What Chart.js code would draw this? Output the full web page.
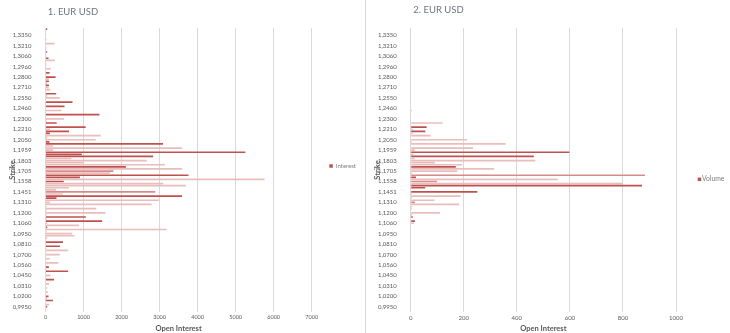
<!DOCTYPE html>
<html><head><meta charset="utf-8">
<script src="https://cdn.jsdelivr.net/npm/chart.js@4.4.0/dist/chart.umd.min.js"></script>
<style>
html,body{margin:0;padding:0;background:#fff;}
#wrap{position:relative;width:730px;height:333px;overflow:hidden;background:#fff;}
#c1{position:absolute;left:0;top:0;width:365px;height:333px;}
#c2{position:absolute;left:366px;top:0;width:364px;height:333px;}
#sep{position:absolute;left:365px;top:0;width:1px;height:333px;background:#d9d9d9;}
</style></head><body>
<div id="wrap"><canvas id="c1" width="365" height="333"></canvas><div id="sep"></div><canvas id="c2" width="364" height="333"></canvas></div>
<script>
// Strike tick labels, top to bottom (shown every 5th category)
const strikeLabels = ['1,3350','1,3210','1,3060','1,2960','1,2800','1,2710','1,2550','1,2460','1,2300','1,2210','1,2050','1,1959','1,1803','1,1705','1,1558','1,1451','1,1310','1,1200','1,1060','1,0950','1,0810','1,0700','1,0560','1,0450','1,0310','1,0200','0,9950'];

// Panel 1: open interest per strike row (top to bottom)
const interestValues = [45,0,0,0,0,25,0,235,0,25,
 0,45,0,0,80,245,0,25,0,140,
 0,105,0,265,90,90,45,90,80,130,
 0,280,45,375,0,710,0,500,0,420,
 0,1420,0,490,25,295,0,1055,115,620,
 115,1450,45,1320,105,3090,200,3590,200,5255,
 955,2830,680,2665,1010,3140,2115,3590,1785,1690,
 3760,905,5760,480,3095,3690,615,280,2885,450,
 3590,290,2980,115,2790,25,1335,25,1580,25,
 1060,25,1490,45,880,45,3185,25,700,760,
 45,0,460,25,380,25,595,0,375,0,
 115,0,340,0,90,25,595,0,130,0,
 225,0,95,0,45,0,60,0,80,45,
 195,0,95,45,0,0];
const interestShades = ('dlllllllll'+'ldlldlllll'+'ldldldldll'+'ldllldldll'+'ldllldldld'+
 'dlllddllld'+'ddlllldlml'+'ddldllllml'+'ddllllllll'+'dldlldllll'+
 'lldldlllll'+'lllldldlll'+'dllllllldl'+'dlldll').split('');

// Panel 2: volume per strike row (top to bottom)
const volumeValues = [0,0,0,0,0,0,0,0,0,0,
 0,0,0,0,0,0,0,0,0,0,
 0,0,0,0,0,0,0,0,0,0,
 0,0,0,0,0,0,0,0,0,5,
 0,0,0,0,0,120,0,60,8,55,
 8,75,0,212,5,358,0,235,15,598,
 10,464,15,470,91,194,170,314,176,5,
 883,20,554,99,797,872,55,0,251,5,
 188,5,90,16,183,5,5,0,110,5,
 8,0,16,12,0,0,0,0,0,0,
 0,0,0,0,0,0,0,0,0,0,
 0,0,0,0,0,0,0,0,0,0,
 0,0,0,0,0,0,0,0,0,0,
 0,0,0,0,0,0];
const volumeShades = ('llllllllll'+'llllllllll'+'llllllllll'+'llllllllll'+'llllllldld'+
 'llllllllld'+'ldlllldlll'+'mdlmlddldl'+'lllmllllll'+'dldlllllll'+
 'llllllllll'+'llllllllll'+'llllllllll'+'llllll').split('');

// Build category list: blank rows between labelled strikes
const categories = ['', '', ''];
strikeLabels.forEach((s, i) => {
  categories.push(s);
  const gap = i < strikeLabels.length - 1 ? 4 : 2;
  for (let k = 0; k < gap; k++) categories.push('');
});

const shadeColors = { d: '#c0504d', m: '#d68b89', l: '#e8bdbc' };
const FONT = 'Lato';

const panelPlugin = {
  id: 'panelText',
  afterDraw(chart, args, o) {
    const ctx = chart.ctx;
    ctx.save();
    ctx.textBaseline = 'middle';
    ctx.textAlign = 'left';
    ctx.font = o.titleSize + 'px ' + FONT;
    ctx.fillStyle = '#6f7480';
    ctx.fillText(o.title, o.titleX, o.titleY);
    ctx.fillStyle = '#c0504d';
    ctx.fillRect(o.legX, o.legY - 1.75, 3.5, 3.5);
    ctx.font = o.legSize + 'px ' + FONT;
    ctx.fillStyle = '#7f7f7f';
    ctx.fillText(chart.data.datasets[0].label, o.legX + o.legGap, o.legY);
    ctx.restore();
  }
};

function makeChart(id, cfg) {
  return new Chart(document.getElementById(id), {
    type: 'bar',
    data: {
      labels: categories,
      datasets: [{
        label: cfg.name,
        data: cfg.values,
        backgroundColor: cfg.shades.map(s => shadeColors[s]),
        barPercentage: 0.8,
        categoryPercentage: 1.0
      }]
    },
    options: {
      indexAxis: 'y',
      responsive: false,
      animation: false,
      layout: { padding: { left: 0, top: 28, right: cfg.padRight, bottom: 0 } },
      plugins: {
        legend: { display: false },
        tooltip: { enabled: false },
        panelText: cfg.text
      },
      scales: {
        x: {
          min: 0, max: cfg.max,
          ticks: { stepSize: cfg.step, callback: v => String(v), font: { family: FONT, size: cfg.xTickSize }, color: '#595959', padding: 2 },
          grid: { color: '#d9d9d9', drawTicks: false },
          border: { display: false },
          title: { display: true, text: 'Open Interest', font: { family: FONT, size: 7.5, weight: 'bold' }, color: '#595959', padding: { top: 0, bottom: 0 } },
          afterFit: s => { s.height = 21; }
        },
        y: {
          ticks: { autoSkip: false, font: { family: FONT, size: 6 }, color: '#595959', padding: 6 },
          grid: { display: false },
          border: { display: false },
          title: { display: true, text: 'Strike', font: { family: FONT, size: 7.5, weight: 'bold' }, color: '#595959', padding: { top: cfg.yTitlePad, bottom: 0 } },
          afterFit: s => { s.width = cfg.yWidth; }
        }
      }
    },
    plugins: [panelPlugin]
  });
}

makeChart('c1', {
  name: 'Interest', values: interestValues, shades: interestShades,
  max: 7000, step: 1000, xTickSize: 5.5, padRight: 53.3, yWidth: 45.5, yTitlePad: 8.5,
  text: { title: '1. EUR USD', titleX: 47.7, titleY: 12.2, titleSize: 9.5, legX: 329.3, legY: 166, legSize: 6, legGap: 6.5 }
});
makeChart('c2', {
  name: 'Volume', values: volumeValues, shades: volumeShades,
  max: 1000, step: 200, xTickSize: 6, padRight: 54, yWidth: 44.7, yTitlePad: 7.5,
  text: { title: '2. EUR USD', titleX: 47.3, titleY: 9.7, titleSize: 9.5, legX: 331.7, legY: 179.3, legSize: 6.8, legGap: 4.2 }
});
</script>
</body></html>
